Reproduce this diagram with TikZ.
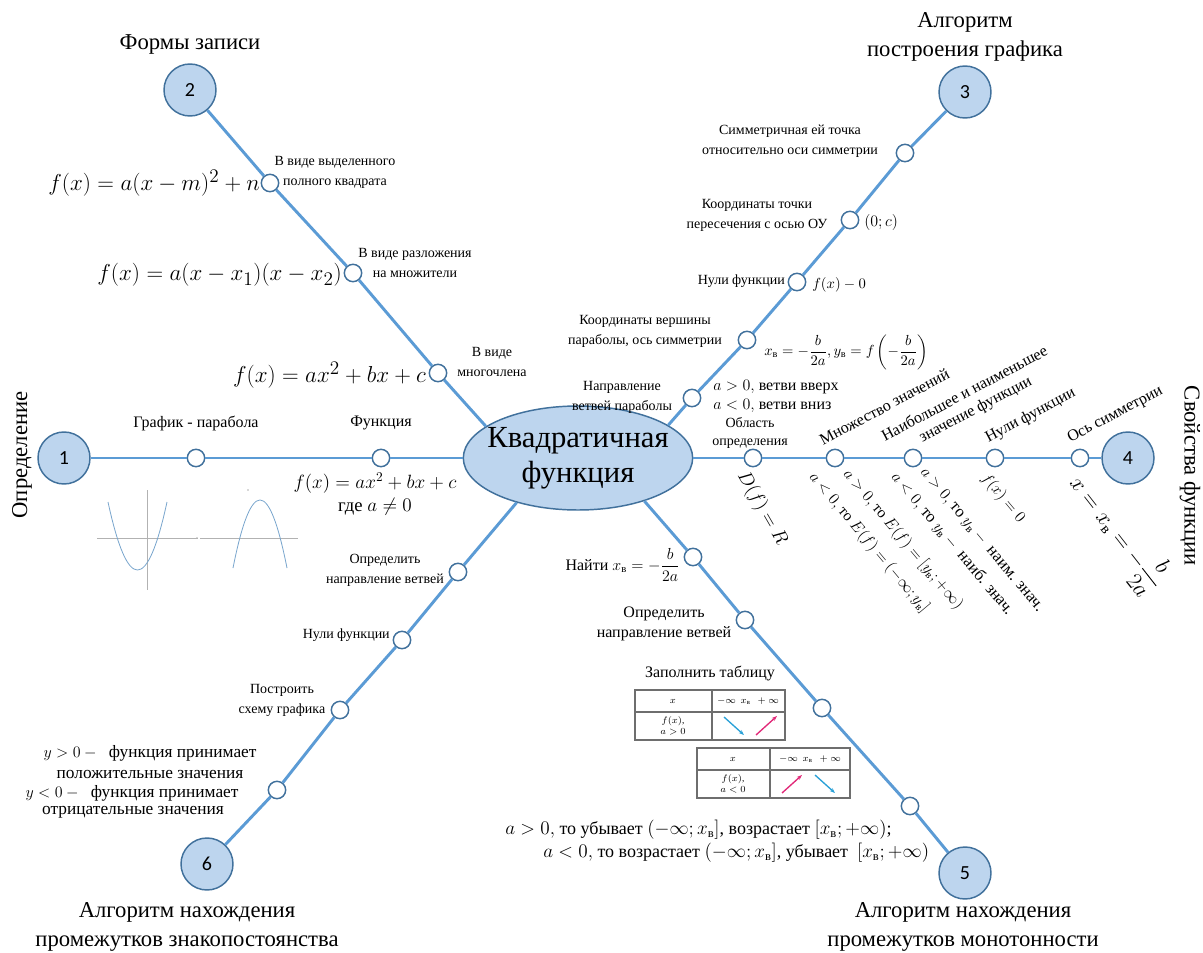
\documentclass[tikz,border=0pt]{standalone}
\usepackage{fontspec}
\setmainfont{Liberation Serif}
\setsansfont{Carlito}
\usepackage{amsmath}
\usetikzlibrary{shapes.geometric,arrows.meta}
\definecolor{lineblue}{RGB}{91,155,213}
\definecolor{nodefill}{RGB}{189,213,238}
\definecolor{nodeborder}{RGB}{65,113,156}
\definecolor{grblue}{RGB}{120,165,205}
\definecolor{arrblue}{RGB}{40,160,215}
\definecolor{arrmag}{RGB}{225,40,120}
\definecolor{tabgray}{RGB}{110,110,110}
\newcommand{\xv}{x_{\text{в}}}
\newcommand{\yv}{y_{\text{в}}}
\tikzset{
  bignum/.style={circle, draw=nodeborder, fill=nodefill, line width=1.1pt, minimum size=39pt, inner sep=0pt, font=\sffamily\fontsize{15}{18}\selectfont},
  dot/.style={circle, draw=nodeborder, fill=white, line width=1.1pt, minimum size=13pt, inner sep=0pt},
  conn/.style={draw=lineblue, line width=2.2pt},
  title/.style={font=\fontsize{17}{22}\selectfont, align=center, inner sep=0pt},
  lab/.style={font=\fontsize{10.5}{15}\selectfont, align=center, inner sep=0pt},
  bigf/.style={font=\fontsize{19}{22}\selectfont, inner sep=0pt},
  smf/.style={font=\fontsize{12}{15}\selectfont, inner sep=0pt, align=center},
  rlab/.style={font=\fontsize{12}{14}\selectfont, inner sep=0pt, align=center},
  tab/.style={font=\fontsize{7}{8}\selectfont, inner sep=0pt, align=center},
  tabline/.style={draw=tabgray, line width=0.8pt},
  graph/.style={draw=grblue, line width=0.6pt},
  axis/.style={draw=gray!60, line width=0.4pt},
}
\begin{document}
\begin{tikzpicture}[x=0.75pt,y=-0.75pt]
\fill[white] (0,0) rectangle (1203,953);
\useasboundingbox (0,0) rectangle (1203,953);

% ---------- main nodes ----------
\node[ellipse, draw=nodeborder, fill=nodefill, line width=1.1pt, minimum width=172pt, minimum height=78pt, inner sep=0pt] (E) at (578,458) {};
\node[font=\fontsize{23}{26}\selectfont, align=center, inner sep=0pt] (Et) at (578,458) {Квадратичная\\функция};

\node[bignum] (c1) at (64,458) {1};
\node[bignum] (c2) at (190,90) {2};
\node[bignum] (c3) at (965,92) {3};
\node[bignum] (c4) at (1128,458) {4};
\node[bignum] (c5) at (965,873) {5};
\node[bignum] (c6) at (207,864) {6};

% small circles
\node[dot] (s11) at (196,458) {};
\node[dot] (s12) at (381,458) {};
\node[dot] (s21) at (270,183) {};
\node[dot] (s22) at (353,273) {};
\node[dot] (s23) at (438,373) {};
\node[dot] (s31) at (905,153) {};
\node[dot] (s32) at (850,220) {};
\node[dot] (s33) at (797,282) {};
\node[dot] (s34) at (747,340) {};
\node[dot] (s35) at (692,398) {};
\node[dot] (s41) at (753,458) {};
\node[dot] (s42) at (835,458) {};
\node[dot] (s43) at (913,458) {};
\node[dot] (s44) at (995,458) {};
\node[dot] (s45) at (1080,458) {};
\node[dot] (s51) at (693,557) {};
\node[dot] (s52) at (745,620) {};
\node[dot] (s53) at (822,708) {};
\node[dot] (s54) at (910,806) {};
\node[dot] (s61) at (458,572) {};
\node[dot] (s62) at (402,640) {};
\node[dot] (s63) at (340,710) {};
\node[dot] (s64) at (277,790) {};

% ---------- connectors ----------
\draw[conn] (c1) -- (s11) -- (s12) -- (E);
\draw[conn] (c2) -- (s21) -- (s22) -- (s23) -- (E.161);
\draw[conn] (c3) -- (s31) -- (s32) -- (s33) -- (s34) -- (s35) -- (E.20);
\draw[conn] (E) -- (s41) -- (s42) -- (s43) -- (s44) -- (s45) -- (c4);
\draw[conn] (E.-33) -- (s51) -- (s52) -- (s53) -- (s54) -- (c5);
\draw[conn] (E.216) -- (s61) -- (s62) -- (s63) -- (s64) -- (c6);

% ---------- branch 1 ----------
\node[title, rotate=90] (t1) at (22,455) {Определение};
\node[lab, font=\fontsize{12}{15}\selectfont] (l11) at (196,423) {График - парабола};
\node[lab, font=\fontsize{12}{15}\selectfont] (l12) at (381,423) {Функция};
\node[smf, font=\fontsize{14}{17}\selectfont] (m12) at (375,494) {$f(x) = ax^2 + bx + c$\\где $a \neq 0$};
% graphs
\draw[axis] (147,490) -- (147,590);
\draw[axis] (97,538) -- (198,538);
\draw[graph] (108,502) .. controls (127.7,592.7) and (147.3,592.7) .. (167,502);
\draw[axis] (200,538) -- (298,538);
\fill[gray!60] (197,538) circle (0.8);
\fill[gray!60] (248,490) circle (0.8);
\draw[graph] (233,568) .. controls (251,477.3) and (269,477.3) .. (287,568);

% ---------- branch 2 ----------
\node[title] (t2) at (190,44) {Формы записи};
\node[bigf, anchor=east] (f21) at (260,183) {$f(x) = a(x-m)^2 + n$};
\node[lab] (l21) at (335,172) {В виде выделенного\\полного квадрата};
\node[bigf, anchor=east] (f22) at (342,275) {$f(x) = a(x-x_1)(x-x_2)$};
\node[lab] (l22) at (415,263) {В виде разложения\\на множители};
\node[bigf, anchor=east] (f23) at (426,375) {$f(x) = ax^2 + bx + c$};
\node[lab] (l23) at (492,362) {В виде\\многочлена};

% ---------- branch 3 ----------
\node[title] (t3) at (965,37) {Алгоритм\\построения графика};
\node[lab] (l31) at (790,141) {Симметричная ей точка\\относительно оси симметрии};
\node[lab] (l32) at (757,215) {Координаты точки\\пересечения с осью ОУ};
\node[smf, anchor=west] (m32) at (864,222) {$(0; c)$};
\node[lab, anchor=east] (l33) at (785,281) {Нули функции};
\node[smf, anchor=west, font=\fontsize{11}{13}\selectfont] (m33) at (812,285) {$f(x) - 0$};
\node[lab] (l34) at (645,331) {Координаты вершины\\параболы, ось симметрии};
\node[smf, anchor=west, font=\fontsize{11}{13}\selectfont] (m34) at (764,352) {$\xv = -\dfrac{b}{2a}, \yv = f\left(-\dfrac{b}{2a}\right)$};
\node[lab] (l35) at (622,397) {Направление\\ветвей параболы};
\node[smf, anchor=west] (m35a) at (713,387) {$a > 0,$ ветви вверх};
\node[smf, anchor=west] (m35b) at (713,406) {$a < 0,$ ветви вниз};

% ---------- branch 4 ----------
\node[title, rotate=-90] (t4) at (1190,476) {Свойства функции};
\node[lab, font=\fontsize{10.5}{13.5}\selectfont] (l41) at (750,433) {Область\\определения};
\node[rlab, rotate=28, anchor=south west] (r42) at (823,446) {Множество значений};
\node[rlab, rotate=28, anchor=south west] (r43a) at (885,442) {Наибольшее и наименьшее};
\node[rlab, rotate=28, anchor=south west] (r43b) at (924,446) {значение функции};
\node[rlab, rotate=28, anchor=south west] (r44) at (990,446) {Нули функции};
\node[rlab, rotate=28, anchor=south west] (r45) at (1072,446) {Ось симметрии};
\node[smf, rotate=-60, anchor=north west, font=\fontsize{14}{16}\selectfont] (d41) at (750,468) {$D(f) = R$};
\node[smf, rotate=-50, anchor=north west, font=\fontsize{11.5}{13}\selectfont] (d42a) at (852,466) {$a > 0,$ то $E(f) = [\yv; +\infty)$};
\node[smf, rotate=-50, anchor=north west, font=\fontsize{11.5}{13}\selectfont] (d42b) at (818,469) {$a < 0,$ то $E(f) = (-\infty; \yv]$};
\node[smf, rotate=-50, anchor=north west, font=\fontsize{12.5}{14}\selectfont] (d43a) at (928,465) {$a > 0,$ то $\yv -{}$ наим. знач.};
\node[smf, rotate=-50, anchor=north west, font=\fontsize{12.5}{14}\selectfont] (d43b) at (900,469) {$a < 0,$ то $\yv -{}$ наиб. знач.};
\node[smf, rotate=-50, anchor=north west] (d44) at (990,470) {$f(x) = 0$};
\node[smf, rotate=-52, anchor=north west, font=\fontsize{16}{18}\selectfont] (d45) at (1094,464) {$x = \xv = -\dfrac{b}{2a}$};

% ---------- branch 5 ----------
\node[smf, anchor=east] (l51) at (680,565) {Найти $\xv = -\dfrac{b}{2a}$};
\node[smf] (l52) at (664,624) {Определить\\направление ветвей};
\node[smf] (l53) at (710,673) {Заполнить таблицу};
% table 1
\draw[tabline] (635,690) rectangle (785,740);
\draw[tabline] (712,690) -- (712,740);
\draw[tabline] (635,712) -- (785,712);
\node[tab] (ta1) at (673,701) {$x$};
\node[tab] (ta2) at (748,701) {$-\infty\ \ \xv\ \ +\infty$};
\node[tab] (ta3) at (673,726) {$f(x)$,\\$a > 0$};
\coordinate (ta4s) at (724,717);
\coordinate (ta4e) at (744,735);
\coordinate (ta5s) at (756,735);
\coordinate (ta5e) at (777,716);
\draw[arrblue, line width=1pt, -{Stealth[length=4pt]}] (ta4s) -- (ta4e);
\draw[arrmag, line width=1pt, -{Stealth[length=4pt]}] (ta5s) -- (ta5e);
% table 2
\draw[tabline] (697,748) rectangle (850,798);
\draw[tabline] (770,748) -- (770,798);
\draw[tabline] (697,770) -- (850,770);
\node[tab] (tb1) at (733,759) {$x$};
\node[tab] (tb2) at (810,759) {$-\infty\ \ \xv\ \ +\infty$};
\node[tab] (tb3) at (733,784) {$f(x)$,\\$a < 0$};
\coordinate (tb4s) at (782,793);
\coordinate (tb4e) at (802,775);
\coordinate (tb5s) at (815,775);
\coordinate (tb5e) at (835,793);
\draw[arrmag, line width=1pt, -{Stealth[length=4pt]}] (tb4s) -- (tb4e);
\draw[arrblue, line width=1pt, -{Stealth[length=4pt]}] (tb5s) -- (tb5e);
\node[smf, anchor=west, font=\fontsize{13.5}{16}\selectfont] (m54a) at (505,830) {$a > 0,$ то убывает $(-\infty; \xv]$, возрастает $[\xv; +\infty)$;};
\node[smf, anchor=west, font=\fontsize{13.5}{16}\selectfont] (m54b) at (543,853) {$a < 0,$ то возрастает $(-\infty; \xv]$, убывает \ $[\xv; +\infty)$};
\node[title] (t5) at (963,927) {Алгоритм нахождения\\промежутков монотонности};

% ---------- branch 6 ----------
\node[lab] (l61) at (385,570) {Определить\\направление ветвей};
\node[lab, anchor=east] (l62) at (390,635) {Нули функции};
\node[lab] (l63) at (282,700) {Построить\\схему графика};
\node[smf, font=\fontsize{13}{15}\selectfont] (y1) at (150,753) {$y > 0 -{}$ \ функция принимает};
\node[smf, font=\fontsize{13}{15}\selectfont] (y2) at (150,774) {положительные значения};
\node[smf, font=\fontsize{13}{15}\selectfont] (y3) at (132,793) {$y < 0 -{}$ \ функция принимает};
\node[smf, font=\fontsize{13}{15}\selectfont] (y4) at (133,812) {отрицательные значения};
\node[title] (t6) at (187,927) {Алгоритм нахождения\\промежутков знакопостоянства};
\end{tikzpicture}
\end{document}
